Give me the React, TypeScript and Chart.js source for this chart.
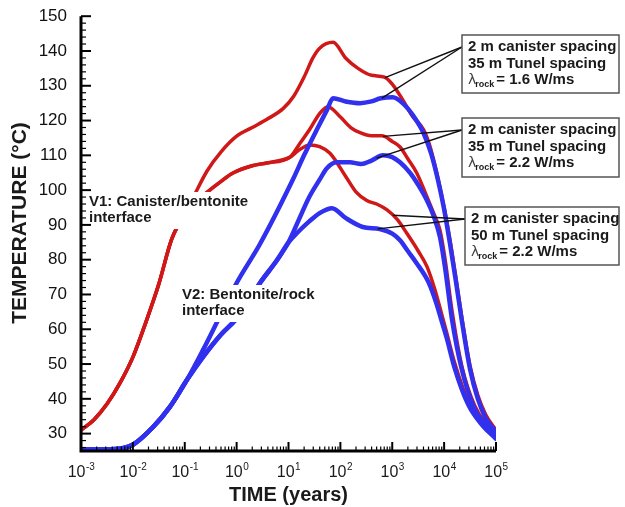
import React, { useEffect, useRef } from 'react';
import { Chart, registerables } from 'chart.js';

Chart.register(...registerables);

const FONT = "'Liberation Sans', Arial, Helvetica, sans-serif";
const RED = 'rgb(208, 24, 24)';
const BLUE = 'rgb(48, 48, 238)';
const INK = '#1a1a1a';

// ---- data (time given as log10 of years, temperature in °C) ----
const yTickValues = [30, 40, 50, 60, 70, 80, 90, 100, 110, 120, 130, 140, 150];
const xDecadeExps = [-3, -2, -1, 0, 1, 2, 3, 4, 5];

// V1: canister/bentonite interface (red)
const v1EarlyExp = [-3, -2.75, -2.5, -2.25, -2, -1.75, -1.5, -1.25, -1.0];
const v1EarlyT = [31, 34, 38.5, 44.5, 52, 62, 73, 86, 93];

const v1aExp = [-0.8, -0.57, -0.3, 0, 0.3, 0.6, 0.9, 1.1, 1.3, 1.47, 1.6, 1.86, 2.1, 2.34, 2.6, 2.85, 3.0, 3.2, 3.4, 3.6, 3.72, 3.85, 4.0, 4.12, 4.22, 4.34, 4.5, 4.65, 4.8, 5];
const v1aT = [99, 105.5, 111, 115.5, 118, 120.5, 123.5, 127, 132.5, 138, 140.8, 142.5, 138, 135, 133, 132.5, 130.5, 126, 121, 117.5, 113, 105.5, 95, 85, 75.5, 63.5, 49.5, 41, 35.5, 31];

const v1bcExp = [-0.9, -0.6, -0.3, -0.07, 0.3, 0.58, 1.03];
const v1bcT = [95, 99, 102.5, 104.9, 107, 107.8, 109.5];

const v1bExp = [1.2, 1.41, 1.6, 1.76, 2.0, 2.2, 2.38, 2.6, 2.8, 3.0, 3.15, 3.3, 3.47, 3.63, 3.78, 3.92, 4.02, 4.15, 4.34, 4.59, 4.8, 5];
const v1bT = [113, 117.5, 122, 124, 121, 118, 116.5, 115.6, 115.6, 114, 112.4, 109, 105, 99.5, 94, 88.5, 80, 65.5, 49.5, 38, 33, 30.3];

const v1cExp = [1.2, 1.41, 1.6, 1.8, 2.1, 2.3, 2.51, 2.7, 2.9, 3.1, 3.28, 3.5, 3.67, 3.82, 3.95, 4.05, 4.2, 4.46, 4.73, 5];
const v1cT = [111.5, 113, 112.5, 110.6, 104, 99.5, 97, 96, 94.3, 91.5, 87.6, 82.5, 78, 71.5, 64.5, 59, 50.5, 39.5, 33.5, 29];

// V2: bentonite/rock interface (blue)
const v2EarlyExp = [-3, -2.5, -2.2, -2, -1.61, -1.29, -0.96];
const v2EarlyT = [25.5, 25.5, 25.8, 26.8, 31.9, 37.6, 45.4];

const v2aExp = [-0.65, -0.36, 0.0, 0.45, 1.08, 1.3, 1.55, 1.74, 1.86, 2.1, 2.38, 2.6, 2.78, 3.01, 3.2, 3.4, 3.6, 3.75, 3.88, 4.0, 4.12, 4.22, 4.34, 4.5, 4.65, 4.8, 5];
const v2aT = [54, 62.6, 73.3, 84.5, 102.9, 110, 117.5, 123, 126.4, 125.5, 125, 125.5, 126.4, 126.7, 125, 121.5, 116.5, 110.5, 103, 94.5, 84, 74.5, 62.6, 48.5, 40, 34.5, 30.5];

const v2bcExp = [-0.65, -0.3, -0.03, 0.2, 0.45, 0.78, 1.0];
const v2bcT = [52, 58.5, 62.6, 67.5, 73.3, 79.9, 85];

const v2bExp = [1.2, 1.4, 1.6, 1.74, 1.93, 2.18, 2.4, 2.6, 2.82, 3.0, 3.15, 3.34, 3.5, 3.67, 3.8, 3.92, 4.02, 4.15, 4.34, 4.59, 4.8, 5];
const v2bT = [91.5, 98, 103, 106.3, 108, 108, 107.5, 108.5, 110, 109.5, 108, 105, 101.5, 97, 92.5, 86.5, 77.5, 63, 48.5, 37, 32.5, 30];

const v2cExp = [1.16, 1.4, 1.6, 1.84, 2.1, 2.43, 2.76, 3.0, 3.15, 3.3, 3.47, 3.7, 3.85, 3.95, 4.05, 4.2, 4.46, 4.73, 5];
const v2cT = [87.6, 91, 93.4, 94.8, 92, 89.4, 88.8, 87.5, 85.6, 82.5, 79, 73.5, 67.5, 62.5, 57.5, 49, 38.5, 32.5, 28.5];

// full curves built from the pieces
const curves: Record<string, { exp: number[]; t: number[] }> = {
  v1a: { exp: [...v1EarlyExp, ...v1aExp], t: [...v1EarlyT, ...v1aT] },
  v1b: { exp: [...v1EarlyExp, ...v1bcExp, ...v1bExp], t: [...v1EarlyT, ...v1bcT, ...v1bT] },
  v1c: { exp: [...v1EarlyExp, ...v1bcExp, ...v1cExp], t: [...v1EarlyT, ...v1bcT, ...v1cT] },
  v2a: { exp: [...v2EarlyExp, ...v2aExp], t: [...v2EarlyT, ...v2aT] },
  v2b: { exp: [...v2EarlyExp, ...v2bcExp, ...v2bExp], t: [...v2EarlyT, ...v2bcT, ...v2bT] },
  v2c: { exp: [...v2EarlyExp, ...v2bcExp, ...v2cExp], t: [...v2EarlyT, ...v2bcT, ...v2cT] },
};

// annotation boxes: text and which curve (at which log-time) each leader points to
const caseLines = [
  ['2 m canister spacing', '35 m Tunel spacing'],
  ['2 m canister spacing', '35 m Tunel spacing'],
  ['2 m canister spacing', '50 m Tunel spacing'],
];
const caseLambda = ['1.6', '2.2', '2.2'];
const caseTargets: [string, number][][] = [
  [['v1a', 2.86], ['v2a', 2.8]],
  [['v1b', 2.82], ['v2b', 2.7]],
  [['v1c', 3.01], ['v2c', 2.72]],
];
const boxRects = [
  { x: 462, y: 35, w: 157, h: 58 },
  { x: 462, y: 118, w: 157, h: 59 },
  { x: 465, y: 207, w: 154, h: 58 },
];

function toPoints(exp: number[], t: number[]) {
  return exp.map((e, i) => ({ x: Math.pow(10, e), y: t[i] }));
}

function valueAt(key: string, e: number) {
  const { exp, t } = curves[key];
  for (let i = 0; i < exp.length - 1; i++) {
    if (e >= exp[i] && e <= exp[i + 1]) {
      const f = (e - exp[i]) / (exp[i + 1] - exp[i]);
      return t[i] + f * (t[i + 1] - t[i]);
    }
  }
  return t[t.length - 1];
}

const decor = {
  id: 'decor',
  afterDatasetsDraw(chart: any) {
    const ctx: CanvasRenderingContext2D = chart.ctx;
    const xs = chart.scales.x;
    const ys = chart.scales.y;
    ctx.save();

    // curve-group labels with white backing
    const labels = [
      { x: 89, y: 202, l1: 'V1: Canister/bentonite', l2: 'interface' },
      { x: 182, y: 295, l1: 'V2: Bentonite/rock', l2: 'interface' },
    ];
    ctx.font = `bold 15px ${FONT}`;
    ctx.textBaseline = 'middle';
    ctx.textAlign = 'left';
    for (const lb of labels) {
      const w = ctx.measureText(lb.l1).width;
      ctx.fillStyle = '#fff';
      ctx.fillRect(lb.x - 2, lb.y - 10, w + 6, 37);
      ctx.fillStyle = INK;
      ctx.fillText(lb.l1, lb.x, lb.y);
      ctx.fillText(lb.l2, lb.x, lb.y + 16);
    }

    // leader lines
    ctx.strokeStyle = '#111';
    ctx.lineWidth = 1.4;
    boxRects.forEach((b, i) => {
      const ox = b.x;
      const oy = b.y + 12;
      for (const [key, e] of caseTargets[i]) {
        const px = xs.getPixelForValue(Math.pow(10, e));
        const py = ys.getPixelForValue(valueAt(key, e));
        ctx.beginPath();
        ctx.moveTo(ox, oy);
        ctx.lineTo(px, py);
        ctx.stroke();
      }
    });

    // boxes
    boxRects.forEach((b, i) => {
      ctx.fillStyle = '#fff';
      ctx.fillRect(b.x, b.y, b.w, b.h);
      ctx.strokeStyle = '#555';
      ctx.lineWidth = 1.5;
      ctx.strokeRect(b.x, b.y, b.w, b.h);
      const tx = b.x + 6;
      let ty = b.y + 12;
      ctx.fillStyle = INK;
      ctx.font = `bold 15px ${FONT}`;
      ctx.textBaseline = 'middle';
      for (const line of caseLines[i]) {
        ctx.fillText(line, tx, ty);
        ty += 16.5;
      }
      ctx.font = `14px 'DejaVu Sans', ${FONT}`;
      ctx.fillStyle = '#444';
      ctx.fillText('λ', tx, ty);
      let cx = tx + ctx.measureText('λ').width - 1;
      ctx.font = `bold 9px ${FONT}`;
      ctx.fillStyle = INK;
      ctx.fillText('rock', cx, ty + 5);
      cx += ctx.measureText('rock').width + 2;
      ctx.font = `bold 15px ${FONT}`;
      ctx.fillText(`= ${caseLambda[i]} W/ms`, cx, ty);
    });
    ctx.restore();
  },
  afterDraw(chart: any) {
    const ctx: CanvasRenderingContext2D = chart.ctx;
    const xs = chart.scales.x;
    const ys = chart.scales.y;
    const { left, right, top, bottom } = chart.chartArea;
    ctx.save();
    ctx.strokeStyle = '#000';
    // axis lines
    ctx.lineWidth = 3;
    ctx.beginPath();
    ctx.moveTo(left, top);
    ctx.lineTo(left, bottom);
    ctx.lineTo(right, bottom);
    ctx.stroke();
    // y ticks (inward)
    ctx.lineWidth = 2;
    for (const v of yTickValues) {
      const y = ys.getPixelForValue(v);
      ctx.beginPath();
      ctx.moveTo(left, y);
      ctx.lineTo(left + 10, y);
      ctx.stroke();
    }
    ctx.lineWidth = 1.2;
    for (let v = 26; v < 150; v += 2) {
      if (v % 10 === 0) continue;
      const y = ys.getPixelForValue(v);
      ctx.beginPath();
      ctx.moveTo(left, y);
      ctx.lineTo(left + 5, y);
      ctx.stroke();
    }
    // x ticks (inward)
    ctx.lineWidth = 2;
    for (const e of xDecadeExps) {
      const x = xs.getPixelForValue(Math.pow(10, e));
      ctx.beginPath();
      ctx.moveTo(x, bottom);
      ctx.lineTo(x, bottom - 9);
      ctx.stroke();
    }
    ctx.lineWidth = 1.2;
    for (let d = -3; d < 5; d++) {
      for (let k = 2; k <= 9; k++) {
        const x = xs.getPixelForValue(k * Math.pow(10, d));
        ctx.beginPath();
        ctx.moveTo(x, bottom);
        ctx.lineTo(x, bottom - 4.5);
        ctx.stroke();
      }
    }
    // x tick labels 10^n
    ctx.fillStyle = INK;
    ctx.textAlign = 'left';
    ctx.textBaseline = 'alphabetic';
    for (const e of xDecadeExps) {
      const x = xs.getPixelForValue(Math.pow(10, e));
      const sup = e < 0 ? '-' + Math.abs(e) : String(e);
      ctx.font = `16px ${FONT}`;
      const w1 = ctx.measureText('10').width;
      ctx.font = `10px ${FONT}`;
      const w2 = ctx.measureText(sup).width;
      const sx = x - (w1 + w2) / 2;
      ctx.font = `16px ${FONT}`;
      ctx.fillText('10', sx, 477);
      ctx.font = `10px ${FONT}`;
      ctx.fillText(sup, sx + w1 + 0.5, 470);
    }
    // y title
    ctx.translate(20, 223);
    ctx.rotate(-Math.PI / 2);
    ctx.textAlign = 'center';
    ctx.textBaseline = 'middle';
    ctx.font = `bold 21px ${FONT}`;
    ctx.fillText('TEMPERATURE (°C)', 0, 0);
    ctx.restore();
  },
};

export default function App() {
  const ref = useRef<HTMLCanvasElement | null>(null);
  useEffect(() => {
    if (!ref.current) return;
    const mk = (key: string, color: string, width: number) => ({
      data: toPoints(curves[key].exp, curves[key].t),
      borderColor: color,
      borderWidth: width,
      pointRadius: 0,
      fill: false,
      cubicInterpolationMode: 'monotone' as const,
      borderJoinStyle: 'round' as const,
      borderCapStyle: 'round' as const,
    });
    const chart = new Chart(ref.current, {
      type: 'line',
      data: {
        datasets: [
          mk('v2a', BLUE, 4.5),
          mk('v2b', BLUE, 4.5),
          mk('v2c', BLUE, 4.5),
          mk('v1a', RED, 3.5),
          mk('v1b', RED, 3.5),
          mk('v1c', RED, 3.5),
        ],
      },
      options: {
        animation: false,
        responsive: false,
        devicePixelRatio: 1,
        layout: { padding: { top: 16, right: 129, bottom: 0, left: 0 } },
        plugins: { legend: { display: false }, tooltip: { enabled: false } },
        scales: {
          x: {
            type: 'logarithmic',
            min: 1e-3,
            max: 1e5,
            grid: { display: false },
            border: { display: false },
            ticks: { display: false },
            afterFit: (s: any) => { s.height = 56; },
            title: {
              display: true,
              text: 'TIME (years)',
              color: INK,
              font: { family: FONT, size: 20, weight: 'bold' },
              padding: { top: 0, bottom: 0 },
            },
          },
          y: {
            type: 'linear',
            min: 25,
            max: 150,
            grid: { display: false },
            border: { display: false },
            afterBuildTicks: (s: any) => { s.ticks = yTickValues.map((v) => ({ value: v })); },
            afterFit: (s: any) => { s.width = 81; },
            ticks: { color: '#111', padding: 6, font: { family: FONT, size: 17 } },
          },
        },
      },
      plugins: [decor],
    } as any);
    return () => chart.destroy();
  }, []);
  return (
    <div style={{ position: 'absolute', left: 0, top: 0, width: 625, height: 507, background: '#fff' }}>
      <canvas ref={ref} width={625} height={507} style={{ display: 'block' }} />
    </div>
  );
}
